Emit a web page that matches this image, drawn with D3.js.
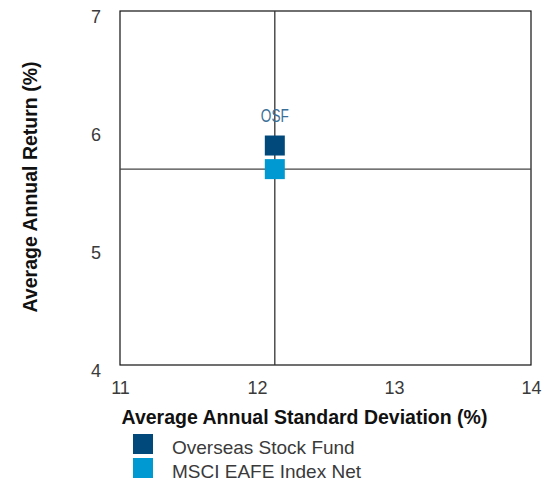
<!doctype html>
<html>
<head>
<meta charset="utf-8">
<script src="https://d3js.org/d3.v7.min.js"></script>
<style>
body { margin: 0; background: #fff; }
text { font-family: "Liberation Sans", Arial, sans-serif; }
</style>
</head>
<body>
<svg id="chart" width="548" height="487"></svg>
<script>
// data
var names = ["Overseas Stock Fund", "MSCI EAFE Index Net"];
var labels = ["OSF", ""];
var risk = [12.13, 12.13];      // avg annual standard deviation (%)
var ret = [5.86, 5.66];         // avg annual return (%)
var colors = ["#00497a", "#0099d2"];
var xTicks = [11, 12, 13, 14];
var yTicks = [4, 5, 6, 7];

var svg = d3.select("#chart");
var plotL = 120, plotR = 531, plotT = 11, plotB = 365;

var x = d3.scaleLinear().domain([11, 14]).range([plotL, plotR]);
var y = d3.scaleLinear().domain([4, 7]).range([plotB, plotT]);

// frame
svg.append("rect")
  .attr("x", plotL).attr("y", plotT)
  .attr("width", plotR - plotL).attr("height", plotB - plotT)
  .attr("fill", "none").attr("stroke", "#111").attr("stroke-width", 1.2);

// crosshair on the benchmark
svg.append("line")
  .attr("x1", x(risk[1])).attr("x2", x(risk[1]))
  .attr("y1", plotT).attr("y2", plotB)
  .attr("stroke", "#333").attr("stroke-width", 1.3);
svg.append("line")
  .attr("x1", plotL).attr("x2", plotR)
  .attr("y1", y(ret[1])).attr("y2", y(ret[1]))
  .attr("stroke", "#444").attr("stroke-width", 1.3);

// axes (tick labels only)
var xAxis = svg.append("g")
  .attr("transform", "translate(0," + plotB + ")")
  .call(d3.axisBottom(x).tickValues(xTicks).tickSize(0).tickPadding(16).tickFormat(d3.format("d")));
xAxis.select(".domain").remove();
xAxis.selectAll("text")
  .style("font-family", "'Liberation Sans', Arial, sans-serif")
  .style("font-size", "18px").attr("fill", "#3a3a3a");

var yAxis = svg.append("g")
  .attr("transform", "translate(" + plotL + ",0)")
  .call(d3.axisLeft(y).tickValues(yTicks).tickSize(0).tickPadding(19).tickFormat(d3.format("d")));
yAxis.select(".domain").remove();
yAxis.selectAll("text")
  .attr("dy", "0.62em")
  .style("font-family", "'Liberation Sans', Arial, sans-serif")
  .style("font-size", "18px").attr("fill", "#3a3a3a");

// points
var sz = 20;
svg.append("g").selectAll("rect")
  .data(names)
  .join("rect")
  .attr("x", function(d, i) { return x(risk[i]) - sz / 2; })
  .attr("y", function(d, i) { return y(ret[i]) - sz / 2; })
  .attr("width", sz).attr("height", sz)
  .attr("fill", function(d, i) { return colors[i]; });

svg.append("text")
  .attr("x", x(risk[0]))
  .attr("y", y(ret[0]) - 24)
  .attr("text-anchor", "middle")
  .attr("textLength", 28)
  .attr("lengthAdjust", "spacingAndGlyphs")
  .style("font-size", "18px")
  .attr("fill", "#3a6f98")
  .text(labels[0]);

// axis titles
svg.append("text")
  .attr("x", (plotL + 489) / 2).attr("y", 424)
  .attr("text-anchor", "middle")
  .style("font-size", "19.5px").style("font-weight", "bold")
  .attr("fill", "#111")
  .text("Average Annual Standard Deviation (%)");

svg.append("text")
  .attr("transform", "translate(37,187) rotate(-90)")
  .attr("text-anchor", "middle")
  .style("font-size", "19.5px").style("font-weight", "bold")
  .attr("fill", "#111")
  .text("Average Annual Return (%)");

// legend
var leg = svg.append("g").selectAll("g")
  .data(names)
  .join("g")
  .attr("transform", function(d, i) { return "translate(133," + (434 + i * 24) + ")"; });
leg.append("rect")
  .attr("width", 20).attr("height", 20)
  .attr("fill", function(d, i) { return colors[i]; });
leg.append("text")
  .attr("x", 39).attr("y", 20)
  .style("font-size", "19px")
  .attr("fill", "#3a3a3a")
  .text(function(d) { return d; });
</script>
</body>
</html>
